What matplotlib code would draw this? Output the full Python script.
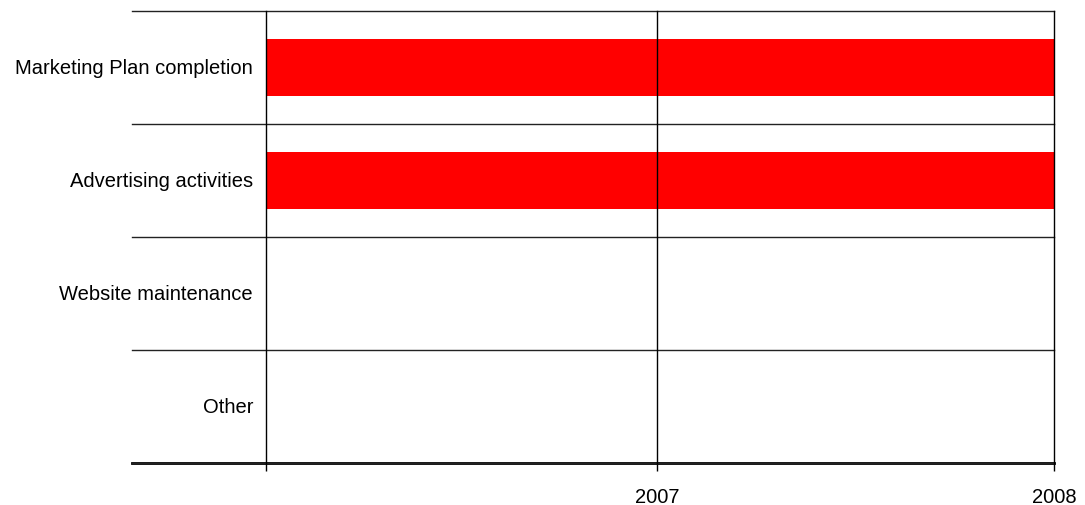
import numpy as np
import matplotlib
matplotlib.use("Agg")
import matplotlib.pyplot as plt

tasks = ["Marketing Plan completion", "Advertising activities", "Website maintenance", "Other"]
starts = [2006.015, 2006.015, 2006.015, 2006.015]
ends = [2008.0, 2008.0, 2006.015, 2006.015]
tick_vals = [2006.015, 2007, 2008]
tick_labels = ["", "2007", "2008"]

plt.rcParams['font.family'] = ['Liberation Sans', 'DejaVu Sans']

fig = plt.figure(figsize=(10.85, 5.06), dpi=100)
ax = fig.add_axes([132 / 1085, 1 - 464 / 506, (1054 - 132) / 1085, (464 - 12) / 506])

y = np.arange(len(tasks))
widths = np.array(ends) - np.array(starts)
ax.barh(y, widths, left=starts, height=0.5, color="#ff0000", zorder=2)

ax.set_xlim(2005.678, 2008.0)
ax.set_ylim(len(tasks) - 0.5, -0.5)

# row separators
for b in np.arange(-0.5, len(tasks), 1.0):
    ax.axhline(b, color="#222222", lw=1, zorder=3, clip_on=False)

# vertical lines at ticks
for t in tick_vals:
    ax.axvline(t, color="black", lw=1, zorder=3, clip_on=False)

for s in ["top", "right", "left"]:
    ax.spines[s].set_visible(False)
ax.spines["bottom"].set_linewidth(2)

ax.set_yticks([])
ax.set_xticks(tick_vals)
ax.set_xticklabels(tick_labels, fontsize=14.5)
ax.tick_params(axis="x", length=6, width=1, pad=11)

for i, name in enumerate(tasks):
    ax.text(starts[0] - 0.032, i, name, ha="right", va="center", fontsize=14.5)

fig.savefig("out.png", dpi=100)
